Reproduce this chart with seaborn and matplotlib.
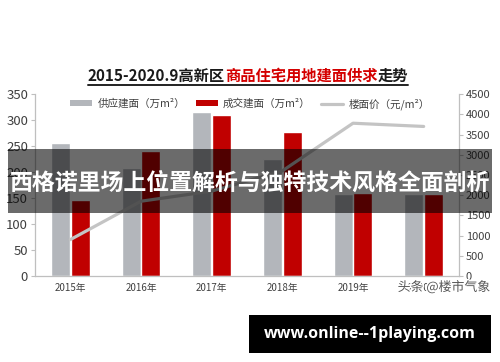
import numpy as np
import pandas as pd
import matplotlib
matplotlib.use("Agg")
import matplotlib.pyplot as plt
import matplotlib.patheffects as pe
from matplotlib.lines import Line2D
from matplotlib.patches import Rectangle, Patch
import seaborn as sns

# data
years = ["2015年", "2016年", "2017年", "2018年", "2019年", "2020年"]
supply = [255, 208, 316, 226, 157, 157]      # 供应建面（万m²）
deal = [147, 240, 309, 278, 160, 157]        # 成交建面（万m²）
price = [900, 1850, 2100, 2600, 3780, 3700]  # 楼面价（元/m²）

left_ticks = list(range(0, 351, 50))
right_ticks = list(range(0, 4501, 500))

GRAY = "#b3b6bb"
RED = "#c00000"
LINE = "#c4c4c4"
SPINE = "#bfbfbf"
TXT = "#404040"

sns.set_theme(style="white")
plt.rcParams["font.family"] = ["Noto Sans CJK SC", "DejaVu Sans"]

df = pd.DataFrame({
    "year": years * 2,
    "value": supply + deal,
    "kind": ["供应建面（万m²）"] * len(years) + ["成交建面（万m²）"] * len(years),
})

fig = plt.figure(figsize=(5, 3.62), dpi=100)
ax = fig.add_axes([0.07, 0.2376, 0.848, 0.5024])

sns.barplot(data=df, x="year", y="value", hue="kind", order=years,
            palette=[GRAY, RED], width=0.56, gap=0.03, saturation=1,
            legend=False, ax=ax)
ax.set_xlim(-0.5, len(years) - 0.5)
ax.set_ylim(0, 350)
ax.set_yticks(left_ticks)
ax.set_xlabel("")
ax.set_ylabel("")
ax.tick_params(axis="y", labelsize=9.5, colors=TXT, length=3, width=0.8,
               color=SPINE, left=True, pad=2)
ax.tick_params(axis="x", labelsize=7, colors=TXT, length=0, pad=5)
for s in ["top", "right"]:
    ax.spines[s].set_visible(False)
for s in ["left", "bottom"]:
    ax.spines[s].set_color(SPINE)
    ax.spines[s].set_linewidth(0.9)

ax2 = ax.twinx()
sns.lineplot(x=np.arange(len(years)), y=price, ax=ax2, color=LINE,
             linewidth=2.3)
ax2.set_ylim(0, 4500)
ax2.set_yticks(right_ticks)
ax2.tick_params(axis="y", labelsize=8, colors=TXT, length=3, width=0.8,
                color=SPINE, right=True, pad=2)
for s in ["top", "left", "bottom"]:
    ax2.spines[s].set_visible(False)
ax2.spines["right"].set_color(SPINE)
ax2.spines["right"].set_linewidth(0.9)
ax2.set_ylabel("")

# legend
handles = [
    Patch(facecolor=GRAY, edgecolor="none", label="供应建面（万m²）"),
    Patch(facecolor=RED, edgecolor="none", label="成交建面（万m²）"),
    Line2D([0], [0], color=LINE, linewidth=2.3, label="楼面价（元/m²）"),
]
fig.legend(handles=handles, loc="center", bbox_to_anchor=(0.5, 0.713),
           ncol=3, frameon=False, fontsize=7.6, handlelength=2.1,
           handleheight=0.5, handletextpad=0.5, columnspacing=1.0,
           labelcolor=TXT)

# title in three coloured pieces, underlined
fig.canvas.draw()
renderer = fig.canvas.get_renderer()
pieces = [("2015-2020.9高新区", "#1a1a1a"),
          ("商品住宅用地建面供求", "#d40000"),
          ("走势", "#1a1a1a")]
ty = 1 - 76 / 362
texts = []
for s, c in pieces:
    t = fig.text(0, ty, s, color=c, fontsize=11, fontweight="bold",
                 va="center", ha="left")
    texts.append(t)
fig.canvas.draw()
widths = [t.get_window_extent(renderer).width / 500 for t in texts]
x = 248 / 500 - sum(widths) / 2
x0 = x
for t, w in zip(texts, widths):
    t.set_x(x)
    x += w
fig.add_artist(Line2D([x0, x], [1 - 85 / 362] * 2, color="#222222",
                      linewidth=1.4, transform=fig.transFigure))

# watermark
fig.text(0.98, 1 - 287 / 362, "头条 @楼市气象", ha="right", va="center",
         fontsize=9.3, color="#555555",
         path_effects=[pe.withStroke(linewidth=2, foreground="white")])

# banner across the middle
fig.add_artist(Rectangle((8 / 500, 1 - 213 / 362), 484 / 500, 64 / 362,
                         transform=fig.transFigure, facecolor="black",
                         alpha=0.58, edgecolor="none", zorder=10))
fig.text(0.5, 1 - 183 / 362, "西格诺里场上位置解析与独特技术风格全面剖析",
         ha="center", va="center", color="white", fontsize=16.5,
         fontweight="bold", zorder=11)

# black url box at the bottom
fig.add_artist(Rectangle((249 / 500, 1 - 353 / 362), 242 / 500, 38 / 362,
                         transform=fig.transFigure, facecolor="black",
                         edgecolor="none", zorder=10))
fig.text(370 / 500, 1 - 334 / 362, "www.online--1playing.com", ha="center",
         va="center", color="white", fontsize=11.5, fontweight="bold",
         family=["Open Sans", "DejaVu Sans"], zorder=11)

fig.savefig("out.png", dpi=100, facecolor="white")
